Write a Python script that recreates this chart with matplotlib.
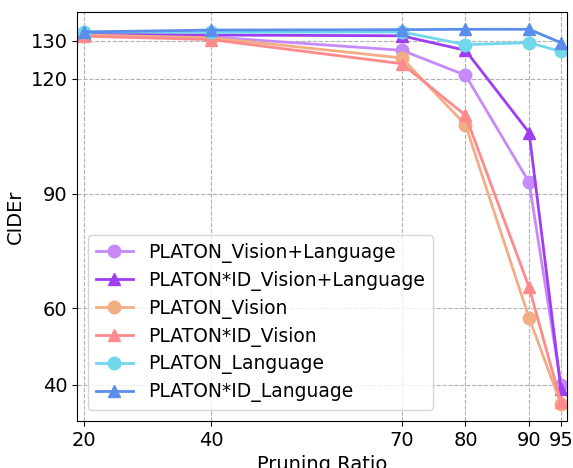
import matplotlib
matplotlib.use('Agg')
import matplotlib.pyplot as plt

ratios = [20, 40, 70, 80, 90, 95]

platon_vl = [131.5, 131.0, 127.5, 121.0, 93.0, 40.0]
platon_id_vl = [131.8, 131.5, 131.3, 127.5, 106.0, 39.0]
platon_v = [131.5, 130.8, 125.5, 108.0, 57.5, 35.0]
platon_id_v = [131.2, 130.3, 124.0, 110.5, 65.5, 35.5]
platon_l = [132.3, 132.2, 132.3, 129.0, 129.5, 127.2]
platon_id_l = [132.3, 132.8, 132.9, 133.0, 133.0, 129.5]

series = [
    ('PLATON_Vision+Language', platon_vl, 'o', '#C68AFA'),
    ('PLATON*ID_Vision+Language', platon_id_vl, '^', '#9F3DF3'),
    ('PLATON_Vision', platon_v, 'o', '#F3AD84'),
    ('PLATON*ID_Vision', platon_id_v, '^', '#FE8A8C'),
    ('PLATON_Language', platon_l, 'o', '#70D7EC'),
    ('PLATON*ID_Language', platon_id_l, '^', '#5B8DEA'),
]

fig, ax = plt.subplots(figsize=(5.73, 4.68), dpi=100)
fig.subplots_adjust(left=0.135, right=0.99, top=0.975, bottom=0.1)

for label, vals, marker, color in series:
    ax.plot(ratios, vals, marker=marker, color=color, label=label,
            linewidth=2, markersize=9)

ax.set_xlim(19, 96)
ax.set_ylim(30.5, 137.6)
ax.set_xticks(ratios)
ax.set_yticks([40, 60, 90, 120, 130])
ax.tick_params(labelsize=14)
ax.set_xlabel('Pruning Ratio', fontsize=14)
ax.set_ylabel('CIDEr', fontsize=14)
ax.grid(True, linestyle='--', color='#b0b0b0', linewidth=0.8)
ax.legend(loc='lower left', fontsize=13.5, labelspacing=0.42,
          bbox_to_anchor=(0.003, 0.005))

plt.savefig('out.png', dpi=100)
